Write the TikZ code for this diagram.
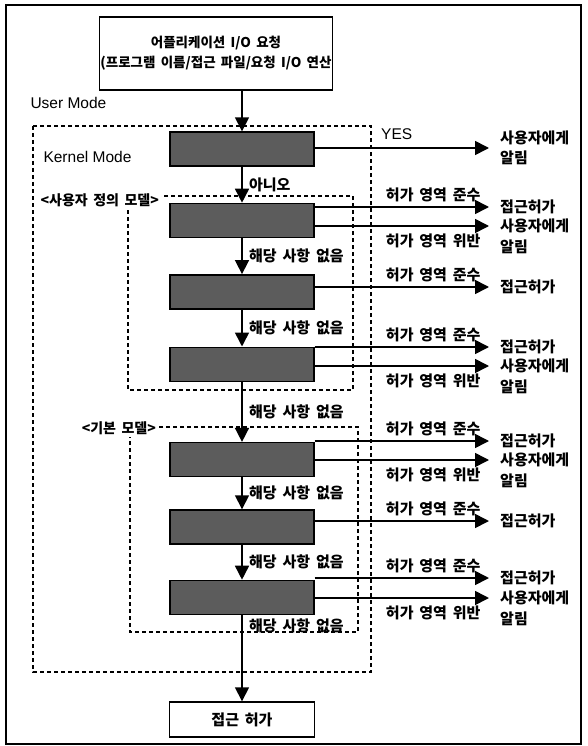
\documentclass[tikz,border=0pt]{standalone}
\usepackage{fontspec}
\setmainfont{Noto Sans CJK KR}[WordSpace=1.7]
\newfontfamily\latinfont{Liberation Sans}
\usetikzlibrary{arrows.meta,positioning}

\begin{document}
\begin{tikzpicture}[
x=1pt, y=1pt,
node distance = 36pt and 12pt,
font=\fontsize{15}{20}\selectfont\bfseries,
box/.style = {draw, line width=1.4pt, align=center, inner sep=1pt},
blk/.style = {draw, line width=1.4pt, fill=black!64,
              minimum width=144pt, minimum height=34pt},
zone/.style = {draw, line width=1.1pt, dash pattern=on 4pt off 3pt},
tag/.style = {fill=white, inner sep=2pt, font=\fontsize{14}{16}\selectfont\bfseries},
goal/.style = {anchor=west, inner sep=3pt, align=left},
warn/.style = {goal,
    label={[anchor=north west, inner sep=3pt, yshift=0pt]south west:알림}},
arr/.style = {line width=1.6pt, -{Triangle[length=14pt,width=14pt]}},
rarr/.style = {arr, shorten >=8pt},
lat/.style = {font=\latinfont\fontsize{15.5}{17}\selectfont}
                ]
\useasboundingbox (0,0) rectangle (588,-746);
\draw[line width=1.3pt] (6,-5) rectangle (581,-744);

%% request and result
\node (app) [box, minimum width=222pt, minimum height=73pt,
             font=\fontsize{13.5}{20}\selectfont\bfseries] at (216,-53.5)
      {어플리케이션 I/O 요청\\(프로그램 이름/접근 파일/요청 I/O 연산};
\node (fin) [box, minimum width=145pt, minimum height=35pt] at (242,-719.5) {접근 허가};

%% modes
\draw[zone] (33,-126) rectangle (371,-672);
\draw[zone] (128,-196) rectangle (353,-390);
\draw[zone] (130,-427) rectangle (358,-632);
\node (um) [lat, anchor=west] at (27,-103) {User Mode};
\node (km) [lat, anchor=west] at (40,-157) {Kernel Mode};
\node (m1) [tag, anchor=east] at (161,-200) {<사용자 정의 모델>};
\node (m2) [tag, anchor=east] at (158,-428) {<기본 모델>};

%% checks
\node (d1) [blk] at (242,-149) {};
\node (d2) [blk, below=36pt of d1] {};
\node (d3) [blk, below=36pt of d2] {};
\node (d4) [blk, below=37pt of d3] {};
\node (d5) [blk, below=60pt of d4] {};
\node (d6) [blk, below=32pt of d5] {};
\node (d7) [blk, below=35pt of d6] {};

%% outcomes
\node (w1) [goal] at (497,-148) {사용자에게\\알림};
\node (ok2) [goal] at (497,-207) {접근허가};
\node (w2) [warn] at (497,-226) {사용자에게};
\node (ok3) [goal] at (497,-287) {접근허가};
\node (ok4) [goal] at (497,-347) {접근허가};
\node (w4) [warn] at (497,-366) {사용자에게};
\node (ok5) [goal] at (497,-441) {접근허가};
\node (w5) [warn] at (497,-460) {사용자에게};
\node (ok6) [goal] at (497,-521) {접근허가};
\node (ok7) [goal] at (497,-578) {접근허가};
\node (w7) [warn] at (497,-598) {사용자에게};

%% main flow
\draw[arr] (app.south -| d1) -- (d1);
\draw[arr] (d1) -- node[right=3pt] {아니오} (d2);
\draw[arr] (d2) -- node[right=3pt] {해당 사항 없음} (d3);
\draw[arr] (d3) -- node[right=3pt] {해당 사항 없음} (d4);
\draw[arr] (d4) -- node[right=3pt] {해당 사항 없음} (d5);
\draw[arr] (d5) -- node[right=3pt] {해당 사항 없음} (d6);
\draw[arr] (d6) -- node[right=3pt] {해당 사항 없음} (d7);
\draw[arr] (d7) -- node[pos=.125, right=3pt] {해당 사항 없음} (fin);

%% side exits
\draw[rarr] (d1.east |- w1) -- node[lat, pos=.45, above=4pt] {YES} (w1);
\foreach \d/\o in {d2/ok2, d3/ok3, d4/ok4, d5/ok5, d6/ok6, d7/ok7}
  \draw[rarr] (\d.east |- \o) -- node[pos=.65, above=1pt] {허가 영역 준수} (\o);
\foreach \d/\w in {d2/w2, d4/w4, d5/w5, d7/w7}
  \draw[rarr] (\d.east |- \w) -- node[pos=.65, below=4pt] {허가 영역 위반} (\w);
\end{tikzpicture}
\end{document}
